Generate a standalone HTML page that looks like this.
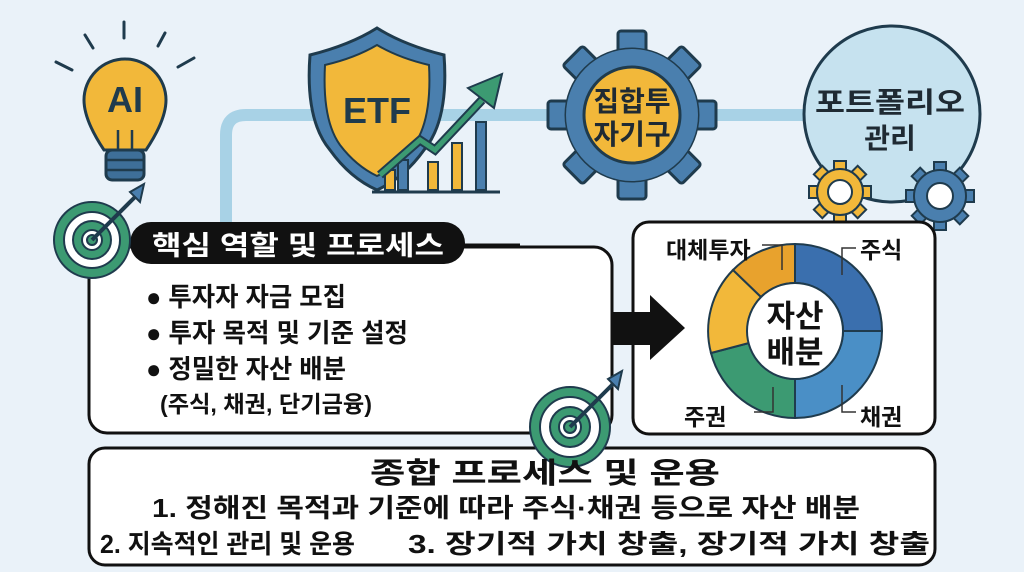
<!DOCTYPE html>
<html><head><meta charset="utf-8"><style>
html,body{margin:0;padding:0;background:#eaf2f9;}
svg{display:block}
text{font-family:"Liberation Sans","Noto Sans CJK KR",sans-serif;font-weight:bold;}
</style></head><body>
<svg width="1024" height="572" viewBox="0 0 1024 572" xmlns="http://www.w3.org/2000/svg">
<rect width="1024" height="572" fill="#eaf2f9"/>
<path d="M226 250 V135 Q226 115 246 115 H880" fill="none" stroke="#a8d2e6" stroke-width="12"/>

<!-- bulb -->
<g stroke="#1f3b4d" stroke-width="3" stroke-linecap="round">
<line x1="124" y1="22" x2="124" y2="38"/><line x1="85" y1="35" x2="93" y2="48"/><line x1="165" y1="33" x2="158" y2="46"/>
<line x1="56" y1="62" x2="72" y2="70"/><line x1="194" y1="58" x2="178" y2="67"/>
</g>
<path d="M104 150 Q84 120 84 100 A41 41 0 1 1 166 100 Q166 120 146 150 Z" fill="#f2b83a" stroke="#1f3b4d" stroke-width="3"/>
<path d="M118 130 V150 M132 130 V150" stroke="#1f3b4d" stroke-width="2.5"/>
<rect x="106" y="150" width="38" height="30" rx="6" fill="#3e6f99" stroke="#1f3b4d" stroke-width="3"/>
<path d="M106 160 H144 M106 170 H144" stroke="#1f3b4d" stroke-width="2.5"/>
<text x="125" y="112" font-size="36" text-anchor="middle" fill="#1f3b4d">AI</text>

<!-- ETF shield -->
<path d="M377 28 Q350 45 310 55 Q305 120 330 150 Q350 178 377 190 Q404 178 424 150 Q449 120 444 55 Q404 45 377 28Z" fill="#4a7fae" stroke="#1f3b4d" stroke-width="3"/>
<path d="M377 45 Q355 58 325 65 Q322 120 340 145 Q356 166 377 176 Q398 166 414 145 Q432 120 429 65 Q399 58 377 45Z" fill="#f2b83a" stroke="#1f3b4d" stroke-width="2"/>
<text x="377" y="123" font-size="36" text-anchor="middle" fill="#1f3b4d">ETF</text>
<g stroke="#1f3b4d" stroke-width="2">
<rect x="385" y="170" width="10" height="20" fill="#f2b83a"/><rect x="398" y="160" width="10" height="30" fill="#4a7fae"/>
<rect x="428" y="162" width="10" height="28" fill="#f2b83a"/><rect x="452" y="143" width="10" height="47" fill="#f2b83a"/>
<rect x="476" y="122" width="10" height="68" fill="#4a7fae"/>
</g>
<line x1="372" y1="192" x2="500" y2="192" stroke="#1f3b4d" stroke-width="3"/>
<path d="M380 175 L420 140 L435 150 L482 100" fill="none" stroke="#1f3b4d" stroke-width="9"/>
<path d="M380 175 L420 140 L435 150 L482 100" fill="none" stroke="#3c9a72" stroke-width="5"/>
<polygon points="468,88 502,74 494,108" fill="#3c9a72" stroke="#1f3b4d" stroke-width="2"/>

<!-- gear 1 -->
<g transform="translate(632,115)">
<g fill="#4a7fae" stroke="#1f3b4d" stroke-width="3">
<rect x="-14" y="-84" width="28" height="30" rx="3"/><rect x="-14" y="-84" width="28" height="30" rx="3" transform="rotate(45)"/>
<rect x="-14" y="-84" width="28" height="30" rx="3" transform="rotate(90)"/><rect x="-14" y="-84" width="28" height="30" rx="3" transform="rotate(135)"/>
<rect x="-14" y="-84" width="28" height="30" rx="3" transform="rotate(180)"/><rect x="-14" y="-84" width="28" height="30" rx="3" transform="rotate(225)"/>
<rect x="-14" y="-84" width="28" height="30" rx="3" transform="rotate(270)"/><rect x="-14" y="-84" width="28" height="30" rx="3" transform="rotate(315)"/>
<circle r="66"/>
</g>
<circle r="66" fill="#4a7fae"/>
<circle r="48" fill="#f2b83a" stroke="#1f3b4d" stroke-width="3"/>
<text y="-4" font-size="28" text-anchor="middle" fill="#1f2a33">집합투</text>
<text y="29" font-size="28" text-anchor="middle" fill="#1f2a33">자기구</text>
</g>

<!-- portfolio circle -->
<circle cx="892" cy="114" r="88" fill="#c6e2ef" stroke="#1f3b4d" stroke-width="3"/>
<text x="890" y="112" font-size="28" text-anchor="middle" fill="#1f2a33" textLength="150" lengthAdjust="spacingAndGlyphs">포트폴리오</text>
<text x="890" y="148" font-size="28" text-anchor="middle" fill="#1f2a33">관리</text>
<g transform="translate(840,192)" fill="#f2b83a" stroke="#1f3b4d" stroke-width="2">
<rect x="-6" y="-31" width="12" height="14"/><rect x="-6" y="-31" width="12" height="14" transform="rotate(45)"/><rect x="-6" y="-31" width="12" height="14" transform="rotate(90)"/><rect x="-6" y="-31" width="12" height="14" transform="rotate(135)"/><rect x="-6" y="-31" width="12" height="14" transform="rotate(180)"/><rect x="-6" y="-31" width="12" height="14" transform="rotate(225)"/><rect x="-6" y="-31" width="12" height="14" transform="rotate(270)"/><rect x="-6" y="-31" width="12" height="14" transform="rotate(315)"/>
<circle r="23"/><circle r="12" fill="#fff"/>
</g>
<g transform="translate(940,196)" fill="#4a7fae" stroke="#1f3b4d" stroke-width="2">
<rect x="-6" y="-34" width="12" height="14"/><rect x="-6" y="-34" width="12" height="14" transform="rotate(45)"/><rect x="-6" y="-34" width="12" height="14" transform="rotate(90)"/><rect x="-6" y="-34" width="12" height="14" transform="rotate(135)"/><rect x="-6" y="-34" width="12" height="14" transform="rotate(180)"/><rect x="-6" y="-34" width="12" height="14" transform="rotate(225)"/><rect x="-6" y="-34" width="12" height="14" transform="rotate(270)"/><rect x="-6" y="-34" width="12" height="14" transform="rotate(315)"/>
<circle r="26"/><circle r="13" fill="#fff"/>
</g>

<!-- left main box -->
<rect x="89" y="247" width="523" height="186" rx="18" fill="#fff" stroke="#111" stroke-width="3"/>
<line x1="460" y1="245" x2="520" y2="245" stroke="#111" stroke-width="3"/>
<rect x="130" y="222" width="335" height="42" rx="21" fill="#111"/>
<text x="152" y="255" font-size="27" fill="#fff" textLength="292" lengthAdjust="spacingAndGlyphs">핵심 역할 및 프로세스</text>
<g font-size="26" fill="#111">
<text x="146" y="306" textLength="200" lengthAdjust="spacingAndGlyphs">● 투자자 자금 모집</text>
<text x="146" y="342" textLength="262" lengthAdjust="spacingAndGlyphs">● 투자 목적 및 기준 설정</text>
<text x="146" y="378" textLength="200" lengthAdjust="spacingAndGlyphs">● 정밀한 자산 배분</text>
<text x="160" y="412" font-size="23" textLength="212" lengthAdjust="spacingAndGlyphs">(주식, 채권, 단기금융)</text>
</g>

<!-- target 1 -->
<g transform="translate(92,240)" stroke="#1f3b4d" stroke-width="2">
<circle r="38" fill="#3c9a72"/><circle r="28" fill="#fff"/><circle r="19" fill="#3c9a72"/><circle r="10" fill="#fff"/><circle r="5" fill="#3c9a72"/>
<line x1="0" y1="0" x2="44" y2="-44" stroke-width="4"/>
<polygon points="38,-48 52,-56 48,-38" fill="#4a7fae"/>
</g>

<!-- right box -->
<rect x="633" y="222" width="302" height="212" rx="16" fill="#fff" stroke="#111" stroke-width="3"/>
<polygon points="612,312 650,312 650,295 685,328 650,360 650,345 612,345" fill="#111"/>
<g transform="translate(795,331)" stroke="#1f3b4d" stroke-width="2">
<path d="M0 -87 A87 87 0 0 1 87 0 L48 0 A48 48 0 0 0 0 -48Z" fill="#3a6fae"/>
<path d="M87 0 A87 87 0 0 1 0 87 L0 48 A48 48 0 0 0 48 0Z" fill="#4a8fc6"/>
<path d="M0 87 A87 87 0 0 1 -84 22 L-46 12 A48 48 0 0 0 0 48Z" fill="#3c9a72"/>
<path d="M-84 22 A87 87 0 0 1 -62 -61 L-34 -34 A48 48 0 0 0 -46 12Z" fill="#f2b83a"/>
<path d="M-62 -61 A87 87 0 0 1 0 -87 L0 -48 A48 48 0 0 0 -34 -34Z" fill="#e8a22d"/>
<circle r="48" fill="#fff"/>
</g>
<text x="795" y="327" font-size="31" text-anchor="middle" fill="#111">자산</text>
<text x="795" y="363" font-size="31" text-anchor="middle" fill="#111">배분</text>
<g font-size="23" fill="#111">
<text x="666" y="258">대체투자</text>
<text x="860" y="258">주식</text>
<text x="684" y="425">주권</text>
<text x="860" y="425">채권</text>
</g>
<g fill="none" stroke="#333" stroke-width="1.5">
<path d="M762 245 H782 V270"/><path d="M856 248 H842 V275"/><path d="M754 412 H773 V387"/><path d="M856 412 H842 V385"/>
</g>

<!-- bottom box -->
<rect x="89" y="448" width="846" height="117" rx="16" fill="#fff" stroke="#111" stroke-width="3"/>
<g transform="translate(570,427)" stroke="#1f3b4d" stroke-width="2">
<circle r="40" fill="#3c9a72"/><circle r="30" fill="#fff"/><circle r="20" fill="#3c9a72"/><circle r="11" fill="#fff"/><circle r="6" fill="#3c9a72"/>
<line x1="0" y1="0" x2="44" y2="-44" stroke-width="4"/>
<polygon points="38,-48 52,-56 48,-38" fill="#4a7fae"/>
</g>
<g font-size="26" fill="#111">
<text x="370" y="483" font-size="29" textLength="350" lengthAdjust="spacingAndGlyphs">종합 프로세스 및 운용</text>
<text x="152" y="517" textLength="708" lengthAdjust="spacingAndGlyphs">1. 정해진 목적과 기준에 따라 주식·채권 등으로 자산 배분</text>
<text x="100" y="553" textLength="255" lengthAdjust="spacingAndGlyphs">2. 지속적인 관리 및 운용</text>
<text x="408" y="553" textLength="522" lengthAdjust="spacingAndGlyphs">3. 장기적 가치 창출, 장기적 가치 창출</text>
</g>
</svg>
</body></html>
